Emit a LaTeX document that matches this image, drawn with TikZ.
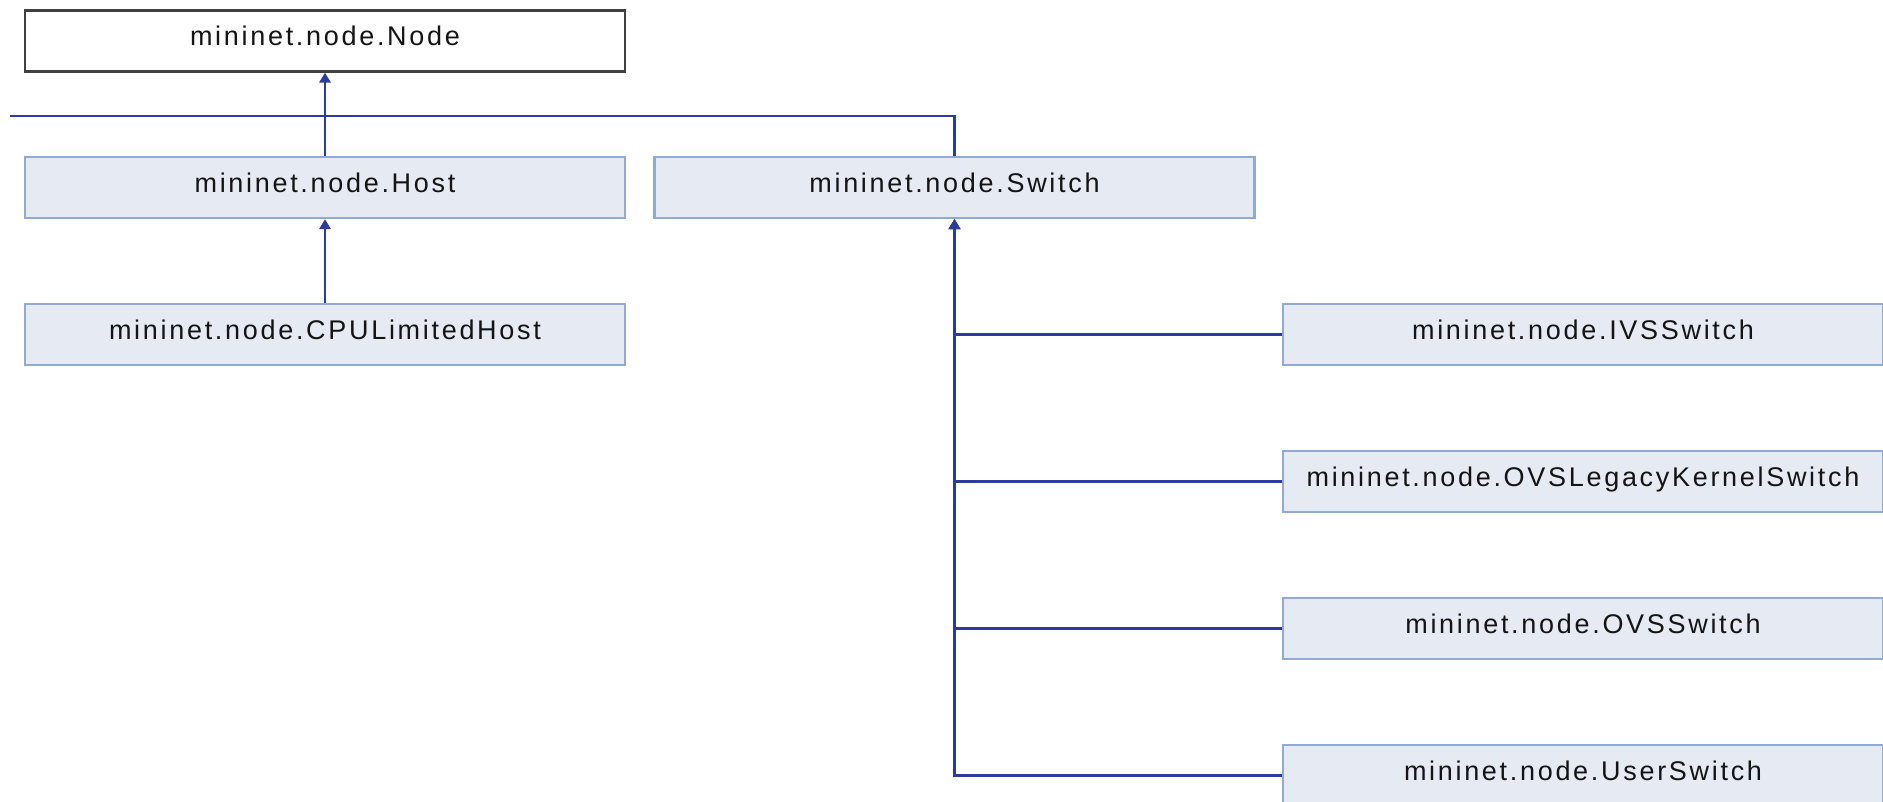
\documentclass[tikz,border=0pt]{standalone}
\usepackage{fontspec}
\setmainfont{Liberation Sans}[LetterSpace=10]
\usepackage{tikz}
\usetikzlibrary{arrows.meta,positioning}
\definecolor{GRcol1}{HTML}{2B3BA0}
\definecolor{GRcol2}{HTML}{E6EAF3}
\definecolor{GRcol3}{HTML}{90AAD3}
\definecolor{GRcol4}{HTML}{404040}

\begin{document}
\begin{tikzpicture}[x=0.75pt, y=-0.75pt,
            cls/.style={rectangle, draw=GRcol3, fill=GRcol2, line width=1.8pt,
                        minimum width=450pt, minimum height=45.75pt, inner sep=0pt,
                        text=black!92, text height=15pt, text depth=7.5pt,
                        font=\fontsize{20.25}{24}\selectfont},
            top/.style={cls, draw=GRcol4, fill=white},
            link/.style={draw=GRcol1, line width=1.8pt},
            isa/.style={link, -{Triangle[width=8.5pt, length=7.5pt]}}]
        \useasboundingbox (0,0) rectangle (1883,802);
        \node[top] (node)   at (325,41)      {mininet.node.Node};
        \node[cls] (host)   at (325,187.5)   {mininet.node.Host};
        \node[cls] (switch) at (954.5,187.5) {mininet.node.Switch};
        \node[cls] (cpu)    at (325,334.5)   {mininet.node.CPULimitedHost};
        \node[cls] (ivs)    at (1583,334.5)  {mininet.node.IVSSwitch};
        \node[cls] (olks)   at (1583,481.5)  {mininet.node.OVSLegacyKernelSwitch};
        \node[cls] (ovs)    at (1583,628.5)  {mininet.node.OVSSwitch};
        \node[cls] (user)   at (1583,775.5)  {mininet.node.UserSwitch};
        \coordinate (cut) at (10,116);
        \draw[isa] (host) -- (node);
        \draw[isa] (cpu) -- (host);
        \draw[link] (switch) |- (cut);
        \foreach \n in {ivs,olks,ovs,user}
          \draw[isa] (\n) -| (switch);
      \end{tikzpicture}
\end{document}
